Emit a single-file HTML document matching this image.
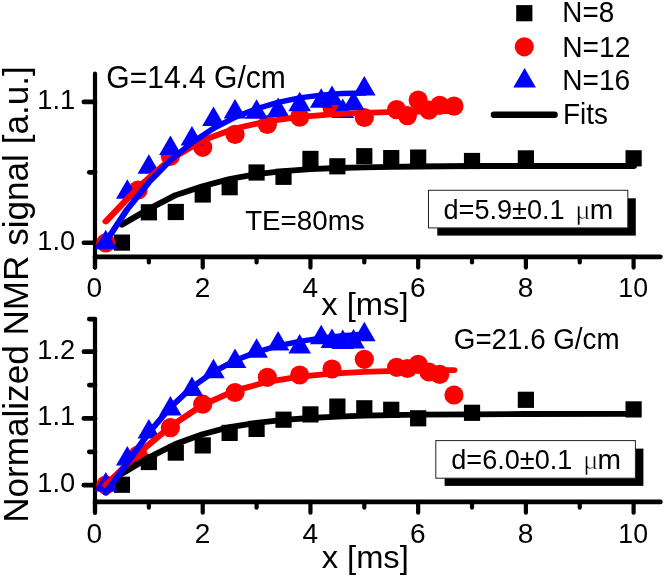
<!DOCTYPE html>
<html><head><meta charset="utf-8"><title>chart</title>
<style>html,body{margin:0;padding:0;background:#fff}svg{display:block;will-change:transform}text{fill:#000}</style></head>
<body>
<svg width="664" height="577" viewBox="0 0 664 577">
<rect width="664" height="577" fill="#fff"/>
<line x1="95.00" y1="73.70" x2="95.00" y2="267.60" stroke="#000" stroke-width="4.2" stroke-linecap="round"/>
<line x1="95.00" y1="256.80" x2="660.40" y2="256.80" stroke="#000" stroke-width="4.7" stroke-linecap="round"/>
<line x1="95.00" y1="256.80" x2="95.00" y2="267.60" stroke="#000" stroke-width="4.2" stroke-linecap="round"/>
<line x1="148.86" y1="256.80" x2="148.86" y2="262.50" stroke="#000" stroke-width="4.2" stroke-linecap="round"/>
<line x1="202.72" y1="256.80" x2="202.72" y2="267.60" stroke="#000" stroke-width="4.2" stroke-linecap="round"/>
<line x1="256.58" y1="256.80" x2="256.58" y2="262.50" stroke="#000" stroke-width="4.2" stroke-linecap="round"/>
<line x1="310.44" y1="256.80" x2="310.44" y2="267.60" stroke="#000" stroke-width="4.2" stroke-linecap="round"/>
<line x1="364.30" y1="256.80" x2="364.30" y2="262.50" stroke="#000" stroke-width="4.2" stroke-linecap="round"/>
<line x1="418.16" y1="256.80" x2="418.16" y2="267.60" stroke="#000" stroke-width="4.2" stroke-linecap="round"/>
<line x1="472.02" y1="256.80" x2="472.02" y2="262.50" stroke="#000" stroke-width="4.2" stroke-linecap="round"/>
<line x1="525.88" y1="256.80" x2="525.88" y2="267.60" stroke="#000" stroke-width="4.2" stroke-linecap="round"/>
<line x1="579.74" y1="256.80" x2="579.74" y2="262.50" stroke="#000" stroke-width="4.2" stroke-linecap="round"/>
<line x1="633.60" y1="256.80" x2="633.60" y2="267.60" stroke="#000" stroke-width="4.2" stroke-linecap="round"/>
<line x1="83.90" y1="101.90" x2="95.00" y2="101.90" stroke="#000" stroke-width="4.7" stroke-linecap="round"/>
<line x1="83.90" y1="242.75" x2="95.00" y2="242.75" stroke="#000" stroke-width="4.7" stroke-linecap="round"/>
<line x1="89.30" y1="172.30" x2="95.00" y2="172.30" stroke="#000" stroke-width="4.7" stroke-linecap="round"/>
<line x1="95.00" y1="320.10" x2="95.00" y2="512.70" stroke="#000" stroke-width="4.2" stroke-linecap="round"/>
<line x1="95.00" y1="501.90" x2="660.40" y2="501.90" stroke="#000" stroke-width="4.7" stroke-linecap="round"/>
<line x1="95.00" y1="501.90" x2="95.00" y2="512.70" stroke="#000" stroke-width="4.2" stroke-linecap="round"/>
<line x1="148.86" y1="501.90" x2="148.86" y2="507.60" stroke="#000" stroke-width="4.2" stroke-linecap="round"/>
<line x1="202.72" y1="501.90" x2="202.72" y2="512.70" stroke="#000" stroke-width="4.2" stroke-linecap="round"/>
<line x1="256.58" y1="501.90" x2="256.58" y2="507.60" stroke="#000" stroke-width="4.2" stroke-linecap="round"/>
<line x1="310.44" y1="501.90" x2="310.44" y2="512.70" stroke="#000" stroke-width="4.2" stroke-linecap="round"/>
<line x1="364.30" y1="501.90" x2="364.30" y2="507.60" stroke="#000" stroke-width="4.2" stroke-linecap="round"/>
<line x1="418.16" y1="501.90" x2="418.16" y2="512.70" stroke="#000" stroke-width="4.2" stroke-linecap="round"/>
<line x1="472.02" y1="501.90" x2="472.02" y2="507.60" stroke="#000" stroke-width="4.2" stroke-linecap="round"/>
<line x1="525.88" y1="501.90" x2="525.88" y2="512.70" stroke="#000" stroke-width="4.2" stroke-linecap="round"/>
<line x1="579.74" y1="501.90" x2="579.74" y2="507.60" stroke="#000" stroke-width="4.2" stroke-linecap="round"/>
<line x1="633.60" y1="501.90" x2="633.60" y2="512.70" stroke="#000" stroke-width="4.2" stroke-linecap="round"/>
<line x1="83.90" y1="351.70" x2="95.00" y2="351.70" stroke="#000" stroke-width="4.7" stroke-linecap="round"/>
<line x1="83.90" y1="418.40" x2="95.00" y2="418.40" stroke="#000" stroke-width="4.7" stroke-linecap="round"/>
<line x1="83.90" y1="485.20" x2="95.00" y2="485.20" stroke="#000" stroke-width="4.7" stroke-linecap="round"/>
<line x1="89.30" y1="319.10" x2="95.00" y2="319.10" stroke="#000" stroke-width="4.7" stroke-linecap="round"/>
<line x1="89.30" y1="385.10" x2="95.00" y2="385.10" stroke="#000" stroke-width="4.7" stroke-linecap="round"/>
<line x1="89.30" y1="451.80" x2="95.00" y2="451.80" stroke="#000" stroke-width="4.7" stroke-linecap="round"/>
<rect x="113.83" y="234.50" width="16.2" height="16.2" fill="#000"/>
<rect x="140.76" y="204.20" width="16.2" height="16.2" fill="#000"/>
<rect x="167.69" y="203.90" width="16.2" height="16.2" fill="#000"/>
<rect x="194.62" y="186.40" width="16.2" height="16.2" fill="#000"/>
<rect x="221.55" y="179.10" width="16.2" height="16.2" fill="#000"/>
<rect x="248.48" y="164.40" width="16.2" height="16.2" fill="#000"/>
<rect x="275.41" y="168.70" width="16.2" height="16.2" fill="#000"/>
<rect x="302.34" y="150.80" width="16.2" height="16.2" fill="#000"/>
<rect x="329.27" y="158.20" width="16.2" height="16.2" fill="#000"/>
<rect x="356.20" y="148.10" width="16.2" height="16.2" fill="#000"/>
<rect x="383.13" y="150.00" width="16.2" height="16.2" fill="#000"/>
<rect x="410.06" y="149.50" width="16.2" height="16.2" fill="#000"/>
<rect x="463.92" y="152.90" width="16.2" height="16.2" fill="#000"/>
<rect x="517.78" y="150.30" width="16.2" height="16.2" fill="#000"/>
<rect x="625.50" y="150.20" width="16.2" height="16.2" fill="#000"/>
<circle cx="105.77" cy="242.90" r="9.6" fill="#f00"/>
<circle cx="138.09" cy="190.00" r="9.6" fill="#f00"/>
<circle cx="170.40" cy="156.30" r="9.6" fill="#f00"/>
<circle cx="202.72" cy="147.30" r="9.6" fill="#f00"/>
<circle cx="235.04" cy="134.40" r="9.6" fill="#f00"/>
<circle cx="267.35" cy="124.50" r="9.6" fill="#f00"/>
<circle cx="299.67" cy="117.10" r="9.6" fill="#f00"/>
<circle cx="331.98" cy="107.40" r="9.6" fill="#f00"/>
<circle cx="364.30" cy="117.50" r="9.6" fill="#f00"/>
<circle cx="396.62" cy="109.60" r="9.6" fill="#f00"/>
<circle cx="407.39" cy="115.60" r="9.6" fill="#f00"/>
<circle cx="418.16" cy="100.10" r="9.6" fill="#f00"/>
<circle cx="428.93" cy="110.10" r="9.6" fill="#f00"/>
<circle cx="439.70" cy="105.30" r="9.6" fill="#f00"/>
<circle cx="453.98" cy="106.10" r="9.6" fill="#f00"/>
<path d="M94.47 249.25L117.07 249.25L105.77 229.75Z" fill="#00f"/>
<path d="M116.02 198.70L138.62 198.70L127.32 179.20Z" fill="#00f"/>
<path d="M137.56 173.80L160.16 173.80L148.86 154.30Z" fill="#00f"/>
<path d="M159.10 155.00L181.70 155.00L170.40 135.50Z" fill="#00f"/>
<path d="M180.65 145.50L203.25 145.50L191.95 126.00Z" fill="#00f"/>
<path d="M202.19 126.10L224.79 126.10L213.49 106.60Z" fill="#00f"/>
<path d="M223.74 118.40L246.34 118.40L235.04 98.90Z" fill="#00f"/>
<path d="M245.28 118.80L267.88 118.80L256.58 99.30Z" fill="#00f"/>
<path d="M266.82 117.00L289.42 117.00L278.12 97.50Z" fill="#00f"/>
<path d="M288.37 111.20L310.97 111.20L299.67 91.70Z" fill="#00f"/>
<path d="M309.91 107.80L332.51 107.80L321.21 88.30Z" fill="#00f"/>
<path d="M320.68 105.00L343.28 105.00L331.98 85.50Z" fill="#00f"/>
<path d="M331.46 117.90L354.06 117.90L342.76 98.40Z" fill="#00f"/>
<path d="M342.23 110.50L364.83 110.50L353.53 91.00Z" fill="#00f"/>
<path d="M353.00 95.40L375.60 95.40L364.30 75.90Z" fill="#00f"/>
<path transform="scale(1.17,1)" d="M104.21 224.70 L127.23 209.00 L150.25 195.10 L173.26 186.30 L196.28 179.00 L219.30 174.20 L242.32 171.20 L265.33 169.20 L288.35 168.00 L311.37 167.40 L334.38 166.90 L357.40 166.50 L403.44 166.00 L449.47 166.00 L541.54 166.00" fill="none" stroke="#000" stroke-width="5.8" stroke-linecap="round" stroke-linejoin="round"/>
<path transform="scale(1.17,1)" d="M90.40 221.49 L118.02 187.56 L145.64 159.31 L173.26 140.36 L200.89 128.52 L228.51 121.31 L256.13 116.97 L283.75 114.38 L311.37 112.82 L338.99 111.90 L348.19 111.68 L357.40 111.50 L366.61 111.34 L375.82 111.22 L388.01 111.08" fill="none" stroke="#f00" stroke-width="5.8" stroke-linecap="round" stroke-linejoin="round"/>
<path transform="scale(1.17,1)" d="M90.40 241.71 L108.82 209.20 L127.23 182.35 L145.64 160.39 L164.06 142.60 L182.47 128.40 L200.89 117.25 L219.30 108.72 L237.71 102.40 L256.13 97.95 L274.54 95.09 L283.75 94.18 L292.95 93.56 L302.16 93.23 L311.37 93.15" fill="none" stroke="#00f" stroke-width="5.4" stroke-linecap="round" stroke-linejoin="round"/>
<rect x="113.83" y="476.65" width="16.2" height="16.2" fill="#000"/>
<rect x="140.76" y="453.90" width="16.2" height="16.2" fill="#000"/>
<rect x="167.69" y="444.50" width="16.2" height="16.2" fill="#000"/>
<rect x="194.62" y="437.30" width="16.2" height="16.2" fill="#000"/>
<rect x="221.55" y="424.80" width="16.2" height="16.2" fill="#000"/>
<rect x="248.48" y="420.80" width="16.2" height="16.2" fill="#000"/>
<rect x="275.41" y="411.60" width="16.2" height="16.2" fill="#000"/>
<rect x="302.34" y="406.30" width="16.2" height="16.2" fill="#000"/>
<rect x="329.27" y="398.50" width="16.2" height="16.2" fill="#000"/>
<rect x="356.20" y="400.20" width="16.2" height="16.2" fill="#000"/>
<rect x="383.13" y="401.70" width="16.2" height="16.2" fill="#000"/>
<rect x="410.06" y="410.20" width="16.2" height="16.2" fill="#000"/>
<rect x="463.92" y="404.70" width="16.2" height="16.2" fill="#000"/>
<rect x="517.78" y="391.70" width="16.2" height="16.2" fill="#000"/>
<rect x="625.50" y="401.30" width="16.2" height="16.2" fill="#000"/>
<circle cx="105.77" cy="485.00" r="9.6" fill="#f00"/>
<circle cx="138.09" cy="455.00" r="9.6" fill="#f00"/>
<circle cx="170.40" cy="427.60" r="9.6" fill="#f00"/>
<circle cx="202.72" cy="404.20" r="9.6" fill="#f00"/>
<circle cx="235.04" cy="392.50" r="9.6" fill="#f00"/>
<circle cx="267.35" cy="377.30" r="9.6" fill="#f00"/>
<circle cx="299.67" cy="375.00" r="9.6" fill="#f00"/>
<circle cx="331.98" cy="369.00" r="9.6" fill="#f00"/>
<circle cx="364.30" cy="359.30" r="9.6" fill="#f00"/>
<circle cx="396.62" cy="367.30" r="9.6" fill="#f00"/>
<circle cx="407.39" cy="368.50" r="9.6" fill="#f00"/>
<circle cx="418.16" cy="364.40" r="9.6" fill="#f00"/>
<circle cx="428.93" cy="372.00" r="9.6" fill="#f00"/>
<circle cx="439.70" cy="374.40" r="9.6" fill="#f00"/>
<circle cx="453.98" cy="395.00" r="9.6" fill="#f00"/>
<path d="M94.47 491.50L117.07 491.50L105.77 472.00Z" fill="#00f"/>
<path d="M116.02 465.50L138.62 465.50L127.32 446.00Z" fill="#00f"/>
<path d="M137.56 438.40L160.16 438.40L148.86 418.90Z" fill="#00f"/>
<path d="M159.10 415.60L181.70 415.60L170.40 396.10Z" fill="#00f"/>
<path d="M180.65 396.00L203.25 396.00L191.95 376.50Z" fill="#00f"/>
<path d="M202.19 378.20L224.79 378.20L213.49 358.70Z" fill="#00f"/>
<path d="M223.74 368.00L246.34 368.00L235.04 348.50Z" fill="#00f"/>
<path d="M245.28 357.80L267.88 357.80L256.58 338.30Z" fill="#00f"/>
<path d="M266.82 350.60L289.42 350.60L278.12 331.10Z" fill="#00f"/>
<path d="M288.37 353.50L310.97 353.50L299.67 334.00Z" fill="#00f"/>
<path d="M309.91 344.20L332.51 344.20L321.21 324.70Z" fill="#00f"/>
<path d="M320.68 348.10L343.28 348.10L331.98 328.60Z" fill="#00f"/>
<path d="M331.46 349.10L354.06 349.10L342.76 329.60Z" fill="#00f"/>
<path d="M342.23 348.60L364.83 348.60L353.53 329.10Z" fill="#00f"/>
<path d="M353.00 341.30L375.60 341.30L364.30 321.80Z" fill="#00f"/>
<path transform="scale(1.17,1)" d="M104.21 473.60 L127.23 457.50 L150.25 444.00 L173.26 434.20 L196.28 427.10 L219.30 422.90 L242.32 419.90 L265.33 418.00 L288.35 416.60 L311.37 415.70 L334.38 415.10 L357.40 414.70 L403.44 414.30 L449.47 414.00 L541.54 413.80" fill="none" stroke="#000" stroke-width="5.8" stroke-linecap="round" stroke-linejoin="round"/>
<path transform="scale(1.17,1)" d="M90.40 485.04 L118.02 453.60 L145.64 426.54 L173.26 404.85 L200.89 390.63 L228.51 381.86 L256.13 376.64 L283.75 373.59 L311.37 371.85 L338.99 370.86 L348.19 370.64 L357.40 370.45 L366.61 370.30 L375.82 370.17 L388.01 370.04" fill="none" stroke="#f00" stroke-width="5.8" stroke-linecap="round" stroke-linejoin="round"/>
<path transform="scale(1.17,1)" d="M90.40 493.02 L108.82 462.74 L127.23 432.74 L145.64 407.32 L164.06 387.22 L182.47 371.90 L200.89 360.46 L219.30 352.03 L237.71 345.86 L256.13 341.37 L274.54 338.11 L283.75 336.83 L292.95 335.75 L302.16 334.83 L311.37 334.04" fill="none" stroke="#00f" stroke-width="5.4" stroke-linecap="round" stroke-linejoin="round"/>
<text transform="translate(86.43,297.20) scale(1.0600,1.04)" font-family="Liberation Sans" font-size="26.5" >0</text>
<text transform="translate(194.81,297.20) scale(1.0600,1.04)" font-family="Liberation Sans" font-size="26.5" >2</text>
<text transform="translate(302.55,297.20) scale(1.0600,1.04)" font-family="Liberation Sans" font-size="26.5" >4</text>
<text transform="translate(410.06,297.20) scale(1.0600,1.04)" font-family="Liberation Sans" font-size="26.5" >6</text>
<text transform="translate(517.73,297.20) scale(1.0600,1.04)" font-family="Liberation Sans" font-size="26.5" >8</text>
<text transform="translate(618.30,297.20) scale(1.0075,1.04)" font-family="Liberation Sans" font-size="26.5" >10</text>
<text transform="translate(86.43,542.60) scale(1.0600,1.04)" font-family="Liberation Sans" font-size="26.5" >0</text>
<text transform="translate(194.81,542.60) scale(1.0600,1.04)" font-family="Liberation Sans" font-size="26.5" >2</text>
<text transform="translate(302.55,542.60) scale(1.0600,1.04)" font-family="Liberation Sans" font-size="26.5" >4</text>
<text transform="translate(410.06,542.60) scale(1.0600,1.04)" font-family="Liberation Sans" font-size="26.5" >6</text>
<text transform="translate(517.73,542.60) scale(1.0600,1.04)" font-family="Liberation Sans" font-size="26.5" >8</text>
<text transform="translate(618.30,542.60) scale(1.0075,1.04)" font-family="Liberation Sans" font-size="26.5" >10</text>
<text transform="translate(37.35,108.80) scale(1.0300,1.04)" font-family="Liberation Sans" font-size="26.5" >1.1</text>
<text transform="translate(37.35,249.60) scale(1.0300,1.04)" font-family="Liberation Sans" font-size="26.5" >1.0</text>
<text transform="translate(37.35,358.60) scale(1.0300,1.04)" font-family="Liberation Sans" font-size="26.5" >1.2</text>
<text transform="translate(37.35,425.30) scale(1.0300,1.04)" font-family="Liberation Sans" font-size="26.5" >1.1</text>
<text transform="translate(37.35,492.10) scale(1.0300,1.04)" font-family="Liberation Sans" font-size="26.5" >1.0</text>
<text transform="translate(321.27,314.80) scale(1.0227,1.0)" font-family="Liberation Sans" font-size="32" >x [ms]</text>
<text transform="translate(321.67,567.60) scale(1.0215,1.0)" font-family="Liberation Sans" font-size="32" >x [ms]</text>
<text transform="translate(28.4,522.81) rotate(-90) scale(1.0033,1)" font-family="Liberation Sans" font-size="35">Normalized NMR signal [a.u.]</text>
<text transform="translate(106.30,87.90) scale(1.0187,1.09)" font-family="Liberation Sans" font-size="29.5" >G=14.4 G/cm</text>
<text transform="translate(453.81,348.60) scale(1.0277,1.1)" font-family="Liberation Sans" font-size="27" >G=21.6 G/cm</text>
<text transform="translate(245.14,229.80) scale(1.0283,1.04)" font-family="Liberation Sans" font-size="27" >TE=80ms</text>
<rect x="516.20" y="5.10" width="16.2" height="16.2" fill="#000"/>
<circle cx="524.30" cy="46.80" r="9.6" fill="#f00"/>
<path d="M513.30 87.50L535.90 87.50L524.60 68.00Z" fill="#00f"/>
<line x1="493.90" y1="114.70" x2="554.60" y2="114.70" stroke="#000" stroke-width="6.4" stroke-linecap="round"/>
<text transform="translate(562.27,22.00) scale(0.9955,1.04)" font-family="Liberation Sans" font-size="28" >N=8</text>
<text transform="translate(562.24,56.80) scale(1.0081,1.04)" font-family="Liberation Sans" font-size="28" >N=12</text>
<text transform="translate(562.25,89.80) scale(1.0037,1.04)" font-family="Liberation Sans" font-size="28" >N=16</text>
<text transform="translate(563.07,123.60) scale(0.9962,1.04)" font-family="Liberation Sans" font-size="28" >Fits</text>
<rect x="437.30" y="198.30" width="198.50" height="37.30" fill="#000"/>
<rect x="428.50" y="190.30" width="199.30" height="37.60" fill="#fff" stroke="#222" stroke-width="1"/>
<text transform="translate(443.52,218.90) scale(0.9860,1.03)" font-family="Liberation Sans" font-size="27.5" >d=5.9±0.1</text>
<text transform="translate(575.29,218.90) scale(1.0515,1.0)" font-family="Liberation Serif" font-size="27.5" stroke="#fff" stroke-width="0.5">μ</text>
<text transform="translate(589.77,218.90) scale(1.0264,1.0)" font-family="Liberation Sans" font-size="27.5" >m</text>
<rect x="444.60" y="448.60" width="198.80" height="37.30" fill="#000"/>
<rect x="435.80" y="440.60" width="199.60" height="37.60" fill="#fff" stroke="#222" stroke-width="1"/>
<text transform="translate(451.22,469.10) scale(0.9860,1.03)" font-family="Liberation Sans" font-size="27.5" >d=6.0±0.1</text>
<text transform="translate(582.99,469.10) scale(1.0515,1.0)" font-family="Liberation Serif" font-size="27.5" stroke="#fff" stroke-width="0.5">μ</text>
<text transform="translate(597.47,469.10) scale(1.0264,1.0)" font-family="Liberation Sans" font-size="27.5" >m</text>
</svg>
</body></html>
